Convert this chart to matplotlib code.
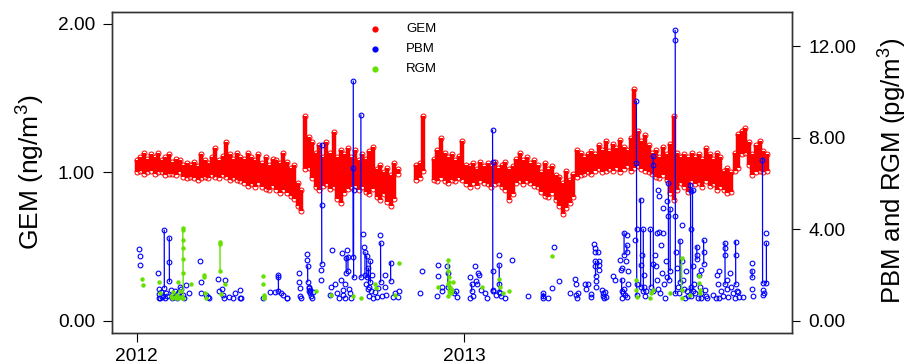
import numpy as np
import pandas as pd
import matplotlib
matplotlib.use('Agg')
import matplotlib.pyplot as plt
import matplotlib.dates as mdates
from matplotlib.lines import Line2D

nan = np.nan
start = pd.Timestamp('2012-01-01')

# GEM (ng/m3): low / high of the readings, one window every 4 days from 2012-01-01
gem_lo = [1.00, 1.01, 0.99, 1.00, 1.01, 0.99, 1.00, 1.00, 0.98, 0.99,
          0.99, 0.98, 1.00, 0.97, 0.96, 0.97, 0.96, 0.95, 0.96, 0.97,
          0.96, 0.98, 0.97, 0.96, 0.98, 0.97, 0.95, 0.96, 0.95, 0.94,
          0.93, 0.91, 0.92, 0.90, 0.93, 0.90, 0.89, 0.88, 0.91, 0.88,
          0.86, 0.88, 0.86, 0.84, 0.82, 0.77, 0.74, 1.02, 1.03, 0.96,
          0.90, 0.88, 0.91, 0.92, 0.89, 0.90, 0.82, 0.79, 0.86, 0.89,
          0.90, 0.91, 0.88, 0.90, 0.87, 0.85, 0.89, 0.83, 0.81, 0.85,
          0.80, 0.77, 0.82, 0.99, nan, nan, nan, nan, 0.95, 0.96,
          1.01, nan, nan, 0.95, 0.94, 0.96, 0.94, 0.93, 0.95, 0.94,
          0.96, 0.95, 0.92, 0.90, 0.93, 0.91, 0.94, 0.93, 0.92, 0.90,
          0.92, 0.93, 0.90, 0.88, 0.81, 0.85, 0.93, 0.94, 0.92, 0.94,
          0.93, 0.91, 0.90, 0.87, 0.84, 0.83, 0.86, 0.81, 0.77, 0.72,
          0.76, 0.79, 0.83, 0.97, 0.98, 0.99, 1.00, 0.99, 1.01, 1.02,
          1.00, 1.01, 1.02, 1.01, 1.03, 1.00, 1.02, 1.04, 1.01, 1.03,
          1.04, 1.02, 1.01, 1.00, 0.99, 0.97, 0.96, 0.98, 0.95, 0.86,
          0.81, 0.88, 0.93, 0.90, 0.87, 0.94, 0.92, 0.93, 0.90, 0.94,
          0.91, 0.92, 0.88, 0.90, 0.88, 0.86, 0.87, 1.01, 1.03, 1.12,
          1.13, 1.05, 0.98, 1.00, 1.01, 1.00, 1.01]
gem_hi = [1.08, 1.10, 1.13, 1.09, 1.12, 1.10, 1.13, 1.08, 1.10, 1.12,
          1.07, 1.09, 1.08, 1.05, 1.06, 1.05, 1.07, 1.04, 1.12, 1.08,
          1.06, 1.10, 1.16, 1.08, 1.11, 1.20, 1.12, 1.09, 1.13, 1.10,
          1.09, 1.13, 1.10, 1.08, 1.12, 1.06, 1.10, 1.05, 1.09, 1.08,
          1.06, 1.13, 1.07, 1.03, 1.05, 0.93, 0.88, 1.38, 1.24, 1.20,
          1.13, 1.18, 1.10, 1.20, 1.13, 1.27, 1.10, 1.15, 1.12, 1.16,
          1.10, 1.15, 1.08, 1.12, 1.09, 1.14, 1.17, 1.02, 1.05, 1.00,
          1.03, 0.98, 1.06, 1.02, nan, nan, nan, nan, 1.05, 1.06,
          1.38, nan, nan, 1.09, 1.15, 1.23, 1.13, 1.10, 1.12, 1.08,
          1.11, 1.21, 1.05, 1.04, 1.06, 1.02, 1.07, 1.04, 1.06, 1.04,
          1.07, 1.03, 1.05, 1.07, 1.02, 1.04, 1.09, 1.13, 1.08, 1.10,
          1.06, 1.08, 1.05, 1.00, 1.06, 1.02, 1.04, 0.98, 0.97, 0.93,
          1.01, 0.95, 0.99, 1.15, 1.13, 1.10, 1.12, 1.14, 1.12, 1.18,
          1.15, 1.21, 1.14, 1.19, 1.16, 1.22, 1.17, 1.15, 1.23, 1.56,
          1.28, 1.21, 1.25, 1.18, 1.13, 1.15, 1.10, 1.17, 1.12, 1.19,
          1.38, 1.13, 1.10, 1.12, 1.10, 1.13, 1.10, 1.12, 1.09, 1.16,
          1.12, 1.09, 1.13, 1.10, 1.01, 1.03, 1.00, 1.13, 1.26, 1.28,
          1.30, 1.20, 1.12, 1.18, 1.21, 1.14, 1.12]

# PBM (pg/m3): sample time (days since 2012-01-01) and value
pbm_day = [2.9, 3.5, 4.1, 24.1, 24.6, 25.0, 25.4, 26.0, 27.0, 28.5, 29.0, 30.8, 30.9, 31.5,
           33.0, 34.0, 36.4, 36.5, 36.6, 38.0, 39.0, 40.0, 42.0, 43.0, 44.5, 46.0, 47.0, 48.0,
           50.0, 52.0, 53.0, 55.0, 58.0, 70.7, 71.5, 72.0, 78.0, 79.5, 80.5, 91.0, 92.0, 95.0,
           96.5, 98.0, 99.0, 103.0, 108.0, 110.0, 115.0, 116.0, 117.0, 141.0, 149.0, 154.5,
           158.2, 158.3, 158.4, 161.0, 163.8, 167.5, 168.0, 181.0, 181.5, 182.0, 183.0, 183.5,
           190.0, 190.6, 191.0, 191.1, 192.0, 192.5, 193.0, 193.5, 194.0, 195.0, 196.0, 197.0,
           205.5, 206.0, 206.6, 206.7, 206.8, 216.0, 217.0, 217.8, 222.0, 224.0, 226.0, 228.0,
           229.0, 230.0, 231.0, 232.5, 233.0, 234.0, 234.1, 235.3, 236.0, 236.1, 237.0, 238.0,
           239.0, 242.0, 242.1, 242.2, 242.3, 242.4, 250.5, 250.6, 253.0, 254.0, 255.0, 255.1,
           256.0, 257.0, 257.1, 258.0, 259.0, 259.1, 260.0, 261.0, 261.1, 262.0, 263.0, 264.0,
           266.0, 268.0, 270.0, 271.8, 272.5, 272.6, 274.0, 277.3, 278.0, 279.0, 283.7, 283.8,
           286.0, 289.0, 292.0, 293.0, 317.0, 318.3, 335.0, 336.2, 336.5, 341.0, 341.5, 346.3,
           347.4, 347.5, 352.0, 355.0, 357.0, 358.0,
           372.0, 372.3, 374.2, 374.3, 376.0, 377.9, 379.0, 380.0, 381.6, 382.5, 384.3, 389.0,
           391.0, 397.6, 397.7, 397.8, 397.9, 398.5, 401.5, 404.7, 405.0, 405.1, 405.2, 405.8,
           407.5, 411.0, 418.9, 437.5, 454.2, 454.3, 454.4, 459.8, 463.6, 466.1, 471.7, 484.0,
           490.0, 490.5, 491.0, 491.5, 493.0, 500.8, 502.5, 504.5, 507.5, 508.0, 511.2, 511.6,
           512.0, 512.5, 512.6, 512.7, 513.0, 513.5, 515.6, 516.0, 516.1, 517.0, 520.0, 520.5,
           521.0, 522.0, 523.0, 524.0, 532.5, 534.3, 539.8, 541.0, 541.8, 541.9, 542.3, 542.6,
           543.5, 544.5, 544.6, 545.0, 546.0, 547.0, 547.3, 547.6, 547.7, 548.0, 548.5, 549.0,
           556.6, 558.3, 558.4, 558.5, 558.6, 558.7, 563.0, 563.1, 564.0, 565.0, 566.0, 566.1,
           566.5, 567.0, 567.5, 568.5, 574.0, 574.1, 577.0, 577.1, 577.2, 577.3, 579.0, 580.0,
           580.8, 581.5, 582.7, 583.0, 583.4, 584.0, 585.0, 586.0, 587.0, 588.0, 588.3, 589.0,
           590.0, 591.0, 592.0, 593.0, 594.0, 594.1, 594.2, 596.0, 596.1, 601.6, 601.7, 601.8,
           601.9, 603.0, 604.0, 605.0, 606.0, 607.0, 607.1, 608.8, 609.5, 610.0, 612.0, 613.0,
           614.0, 615.0, 616.0, 618.7, 618.8, 618.9, 619.0, 619.1, 621.0, 621.1, 622.0, 623.0,
           624.0, 625.8, 625.9, 626.0, 627.0, 628.0, 629.0, 630.0, 630.5, 631.0, 633.4, 633.5,
           633.6, 635.0, 636.0, 637.0, 643.5, 647.0, 648.0, 650.0, 650.5, 651.0, 653.0, 655.0,
           657.1, 657.2, 657.3, 657.4, 659.0, 660.0, 661.0, 663.0, 664.0, 666.0, 668.0, 669.1,
           669.2, 669.3, 670.5, 672.0, 673.5, 677.0, 687.0, 687.5, 687.6, 688.0, 689.0, 699.2,
           699.3, 699.6, 700.0, 701.0, 703.0, 703.5, 703.6]
pbm_val = [3.15, 2.85, 2.45, 2.09, 1.40, 1.18, 1.00, 1.00, 1.25, 1.05, 1.10, 3.96, 1.45, 1.00,
           1.20, 1.08, 3.63, 2.58, 1.72, 1.35, 1.00, 1.15, 1.05, 1.30, 1.00, 1.22, 1.08, 1.50,
           1.40, 1.15, 1.00, 1.55, 1.20, 2.60, 1.68, 1.22, 1.15, 1.05, 1.00, 1.85, 1.30, 1.40,
           1.15, 1.00, 1.80, 1.05, 1.00, 1.20, 1.35, 1.00, 1.00, 1.00, 1.25, 1.28,
           2.00, 1.90, 1.30, 1.20, 1.14, 1.00, 1.00, 2.10, 1.70, 1.45, 1.10, 1.00,
           2.93, 2.67, 2.40, 1.70, 1.45, 1.30, 1.50, 1.20, 1.35, 1.10, 1.00, 1.25,
           2.23, 1.80, 7.70, 5.05, 2.50, 1.14, 1.50, 3.08, 1.60, 1.20, 1.00, 1.80,
           2.97, 1.35, 1.15, 1.60, 1.00, 2.75, 2.10, 3.10, 2.80, 2.20, 1.40, 1.20,
           1.00, 10.48, 2.80, 6.70, 5.70, 1.90, 9.00, 1.90, 3.80, 3.25, 2.00, 3.00,
           1.60, 2.83, 1.90, 1.40, 2.30, 1.50, 1.10, 2.60, 1.70, 1.30, 2.00, 1.00,
           1.25, 1.05, 1.45, 3.77, 3.40, 1.70, 1.10, 2.00, 1.50, 1.14, 2.55, 1.75,
           1.05, 1.20, 1.05, 1.30, 1.21, 2.16, 1.10, 2.42, 1.95, 1.50, 1.30, 2.38,
           2.10, 1.50, 1.30, 1.20, 1.30, 1.05,
           1.00, 1.91, 1.60, 1.30, 1.10, 2.38, 1.72, 1.60, 2.09, 2.00, 1.36, 1.20,
           1.00, 8.34, 6.93, 2.16, 1.30, 1.35, 1.14, 2.86, 2.45, 1.60, 1.28, 1.20,
           1.10, 1.00, 2.64, 1.10, 1.20, 1.10, 1.00, 1.00, 1.43, 3.21, 1.72, 1.20,
           1.85, 1.60, 1.15, 1.00, 1.20, 1.60, 1.38, 1.60, 1.18, 1.05, 3.37, 3.20,
           3.00, 2.60, 2.40, 1.97, 1.72, 1.50, 3.00, 2.60, 2.45, 2.23, 1.35, 1.20,
           1.10, 1.00, 1.25, 1.05, 1.95, 1.80, 2.64, 2.23, 1.80, 1.30, 2.30, 1.00,
           1.20, 3.85, 2.90, 1.38, 1.14, 2.60, 3.74, 3.30, 3.00, 1.05, 2.20, 1.60,
           3.55, 9.60, 6.90, 4.00, 1.60, 1.14, 5.30, 1.50, 2.45, 2.90, 4.00, 1.30,
           1.50, 2.00, 1.10, 1.30, 4.00, 1.50, 7.20, 6.80, 2.50, 1.30, 2.90, 2.40,
           3.85, 1.80, 5.74, 1.40, 5.44, 3.90, 1.20, 3.33, 2.10, 4.94, 3.85, 1.60,
           1.00, 2.60, 5.23, 1.90, 6.03, 4.60, 1.80, 4.90, 2.20, 12.70, 12.30, 4.57,
           1.20, 3.00, 2.30, 1.50, 1.20, 3.50, 1.70, 4.20, 2.60, 1.80, 1.40, 1.00,
           2.20, 1.30, 1.10, 5.96, 5.66, 4.00, 1.50, 1.10, 5.70, 1.30, 2.40, 1.60,
           1.20, 3.25, 2.90, 2.70, 1.00, 2.00, 1.50, 1.20, 2.23, 1.00, 3.52, 3.00,
           2.50, 1.35, 1.10, 1.00, 1.15, 1.00, 2.00, 1.60, 2.20, 1.00, 1.30, 1.10,
           3.40, 3.20, 2.90, 1.60, 1.80, 1.40, 1.05, 2.10, 1.50, 1.20, 1.00, 3.46,
           2.90, 1.60, 1.30, 1.25, 1.05, 1.05, 2.53, 2.20, 1.90, 1.40, 1.10, 7.05,
           1.66, 1.36, 1.14, 1.20, 3.84, 3.40, 1.66]

# RGM (pg/m3): sample time (days since 2012-01-01) and value
rgm_day = [5.4, 7.0, 25.2, 25.8, 38.0, 39.5, 41.0, 42.5, 44.0, 45.0, 45.8, 46.5, 48.0, 49.5,
           50.5, 51.4, 51.5, 51.6, 51.7, 51.8, 51.9, 52.0, 60.6, 75.2, 75.6, 76.5, 77.0, 93.0,
           93.1, 93.2, 93.8, 98.6, 140.7, 141.2, 141.7, 142.2, 142.7, 200.0, 216.7, 242.0,
           250.5, 266.5, 267.0, 288.6, 293.0, 336.5, 348.0, 348.1, 348.2, 348.3, 349.0, 349.5,
           350.0, 350.5, 351.0, 351.5, 352.0, 353.0, 385.4, 404.7, 405.5, 408.8, 415.9, 464.2,
           557.5, 558.0, 559.0, 573.5, 574.5, 576.4, 595.7, 608.8, 608.9, 609.3, 618.0, 628.0,
           628.5, 629.0, 629.5]
rgm_val = [1.84, 1.58, 1.68, 1.20, 1.10, 1.00, 1.25, 1.05, 1.00, 1.15, 1.68, 1.00, 1.30, 1.05,
           1.00, 4.06, 3.99, 3.55, 3.20, 2.70, 2.10, 1.00, 1.60, 2.00, 1.90, 1.20, 1.00, 3.43,
           3.35, 2.16, 1.17, 1.60, 1.98, 1.60, 1.14, 1.00, 1.10, 1.31, 1.14, 1.10,
           1.00, 1.60, 1.43, 1.14, 2.52, 1.50, 2.67, 2.20, 1.60, 1.10, 1.90, 1.70,
           1.50, 1.30, 1.25, 1.20, 1.35, 1.70, 1.46, 1.84, 1.50, 1.20, 1.31, 2.82,
           1.77, 1.35, 1.06, 1.00, 1.20, 1.36, 1.20, 2.74, 1.36, 1.00, 1.14, 1.94,
           1.65, 1.36, 1.20]

t0 = mdates.date2num(start.to_pydatetime())


def connect(day, val, gap=0.15):
    # join samples that follow each other closely, break the line elsewhere
    xs, ys = [], []
    for k in range(len(day)):
        if k and day[k] - day[k - 1] > gap:
            xs.append(day[k])
            ys.append(nan)
        xs.append(day[k])
        ys.append(val[k])
    return t0 + np.array(xs), np.array(ys)


plt.rcParams['font.family'] = ['Liberation Sans', 'DejaVu Sans']
plt.rcParams['mathtext.fontset'] = 'custom'
plt.rcParams['mathtext.rm'] = 'Liberation Sans'
plt.rcParams['mathtext.it'] = 'Liberation Sans'

fig = plt.figure(figsize=(9.1, 3.64), dpi=100)
W, H = 910, 364
ax = fig.add_axes([111.7 / W, 1 - 332.7 / H, 680.6 / W, 321 / H])
ax2 = ax.twinx()

red, blue, green = '#FF0000', '#0000FF', '#66E000'

gem_t = t0 + 4 * np.arange(len(gem_lo))
lo = np.array(gem_lo)
hi = np.array(gem_hi)
ok = ~np.isnan(lo)
ax.fill_between(gem_t, np.nan_to_num(lo), np.nan_to_num(hi), where=ok, step='mid',
                color=red, lw=0, interpolate=False)
ax.vlines(gem_t[ok], lo[ok], hi[ok], color=red, lw=3.2, capstyle='butt')
ax.plot(gem_t, lo, 'o', mfc='none', mec=red, ms=3.6, mew=0.7)
ax.plot(gem_t, hi, 'o', mfc='none', mec=red, ms=3.6, mew=0.7)

px, py = connect(pbm_day, pbm_val)
ax2.plot(px, py, '-', color=blue, lw=0.9)
ax2.plot(t0 + np.array(pbm_day), pbm_val, 'o', mfc='none', mec=blue, ms=3.4, mew=0.8)

rx, ry = connect(rgm_day, rgm_val)
ax2.plot(rx, ry, '-', color=green, lw=1.0)
ax2.plot(t0 + np.array(rgm_day), rgm_val, 'o', color=green, ms=3.2, mew=0)

ax.set_xlim(t0 - 27.9, t0 + 732.5)
ax.set_ylim(-0.08, 2.08)
ax2.set_ylim(-0.52, 13.52)

ax.set_xticks([t0, mdates.date2num(pd.Timestamp('2013-01-01').to_pydatetime())])
ax.set_xticklabels(['2012', '2013'])
ax.set_yticks([0, 1, 2])
ax.set_yticklabels(['0.00', '1.00', '2.00'])
ax2.set_yticks([0, 4, 8, 12])
ax2.set_yticklabels(['0.00', '4.00', '8.00', '12.00'])

ax.tick_params(axis='y', direction='out', length=6.3, width=0.8, pad=5.8, labelsize=13.8)
ax.tick_params(axis='x', direction='out', length=6.5, width=0.8, pad=4.3, labelsize=13.8)
ax2.tick_params(axis='y', direction='out', length=6.0, width=0.8, pad=5.5, labelsize=13.8)
for a in (ax, ax2):
    for s in a.spines.values():
        s.set_color('#333333')
        s.set_linewidth(1.0)

fig.text(31 / W, 1 - 172 / H, r'GEM (ng/m$^{3}$)', rotation=90, ha='center', va='center',
         fontsize=19)
fig.text(893 / W, 1 - 171 / H, r'PBM and RGM (pg/m$^{3}$)', rotation=90, ha='center',
         va='center', fontsize=18.5)

# legend
for lab, col, yy in [('GEM', red, 29), ('PBM', blue, 49), ('RGM', green, 69)]:
    fig.add_artist(Line2D([375 / W], [1 - yy / H], marker='o', color=col, ms=4.5,
                          mew=0, ls='none', transform=fig.transFigure))
    fig.text(406 / W, 1 - yy / H, lab, ha='left', va='center', fontsize=9.5)

fig.savefig('out.png', dpi=100)
